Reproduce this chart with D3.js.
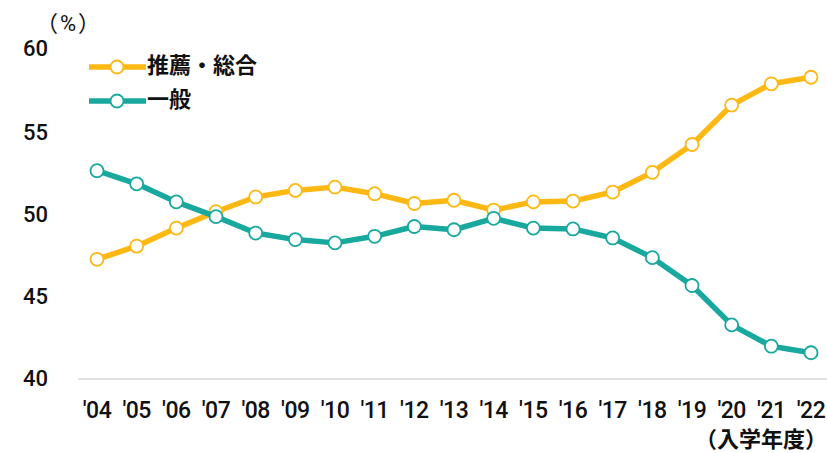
<!DOCTYPE html>
<html>
<head>
<meta charset="utf-8">
<script src="https://cdn.jsdelivr.net/npm/d3@7"></script>
<style>
  body { margin: 0; background: #fff; }
  text { font-family: Roboto, "Noto Sans CJK JP", sans-serif; fill: #111; }
</style>
</head>
<body>
<div id="chart"></div>
<script>
// data
var years = ["'04", "'05", "'06", "'07", "'08", "'09", "'10", "'11", "'12", "'13",
  "'14", "'15", "'16", "'17", "'18", "'19", "'20", "'21", "'22"];
var suisen = [47.3, 48.1, 49.2, 50.2, 51.1, 51.5, 51.7, 51.3, 50.7, 50.9,
  50.3, 50.8, 50.85, 51.4, 52.6, 54.3, 56.7, 58.0, 58.4];
var ippan = [52.7, 51.9, 50.8, 49.9, 48.9, 48.5, 48.3, 48.7, 49.3, 49.1,
  49.8, 49.2, 49.15, 48.6, 47.4, 45.7, 43.3, 42.0, 41.6];
var yTicks = [40, 45, 50, 55, 60];

var seriesList = [
  { name: "推薦・総合", values: suisen, color: "#FDB813" },
  { name: "一般", values: ippan, color: "#19A89E" }
];

var width = 827, height = 453;

var svg = d3.select("#chart").append("svg")
  .attr("width", width)
  .attr("height", height);

var x = d3.scalePoint().domain(years).range([97, 811]);
var y = d3.scaleLinear().domain([40, 60]).range([379, 51]);

// baseline
svg.append("line")
  .attr("x1", 78).attr("x2", 827)
  .attr("y1", y(40)).attr("y2", y(40))
  .attr("stroke", "#d9d9d9")
  .attr("stroke-width", 1.5);

// y axis labels
svg.selectAll(".ytick")
  .data(yTicks)
  .enter()
  .append("text")
  .attr("class", "ytick")
  .attr("x", 48)
  .attr("y", function (d) { return y(d) - (d === 60 ? 3 : 1); })
  .attr("dy", "0.36em")
  .attr("text-anchor", "end")
  .style("font-size", "22px")
  .style("font-weight", 500)
  .text(function (d) { return d; });

svg.append("text")
  .attr("x", 36).attr("y", 31)
  .style("font-size", "22px")
  .style("letter-spacing", "2px")
  .text("（%）");

// x axis labels
svg.selectAll(".xtick")
  .data(years)
  .enter()
  .append("text")
  .attr("class", "xtick")
  .attr("x", function (d) { return x(d); })
  .attr("y", 418)
  .attr("text-anchor", "middle")
  .style("font-size", "23px")
  .style("font-weight", 500)
  .style("letter-spacing", "-0.5px")
  .text(function (d) { return d; });

svg.append("text")
  .attr("x", 827).attr("y", 447)
  .attr("text-anchor", "end")
  .style("font-size", "22px")
  .style("font-weight", 700)
  .text("（入学年度）");

var line = d3.line()
  .x(function (d, i) { return x(years[i]); })
  .y(function (d) { return y(d); });

var group = svg.selectAll(".series")
  .data(seriesList)
  .enter()
  .append("g")
  .attr("class", "series");

group.append("path")
  .attr("d", function (d) { return line(d.values); })
  .attr("fill", "none")
  .attr("stroke", function (d) { return d.color; })
  .attr("stroke-width", 5.5)
  .attr("stroke-linejoin", "round");

group.each(function (s) {
  d3.select(this).selectAll("circle")
    .data(s.values)
    .enter()
    .append("circle")
    .attr("cx", function (d, i) { return x(years[i]); })
    .attr("cy", function (d) { return y(d); })
    .attr("r", 6.5)
    .attr("fill", "#fff")
    .attr("stroke", s.color)
    .attr("stroke-width", 1.8);
});

// legend
var legend = svg.selectAll(".legend")
  .data(seriesList)
  .enter()
  .append("g")
  .attr("class", "legend")
  .attr("transform", function (d, i) { return "translate(0," + (67 + i * 34) + ")"; });

legend.append("line")
  .attr("x1", 89).attr("x2", 146)
  .attr("stroke", function (d) { return d.color; })
  .attr("stroke-width", 5.5);

legend.append("circle")
  .attr("cx", 117).attr("r", 6.5)
  .attr("fill", "#fff")
  .attr("stroke", function (d) { return d.color; })
  .attr("stroke-width", 1.8);

legend.append("text")
  .attr("x", 147)
  .attr("y", -2)
  .attr("dy", "0.36em")
  .style("font-size", "22px")
  .style("font-weight", 700)
  .text(function (d) { return d.name; });
</script>
</body>
</html>
